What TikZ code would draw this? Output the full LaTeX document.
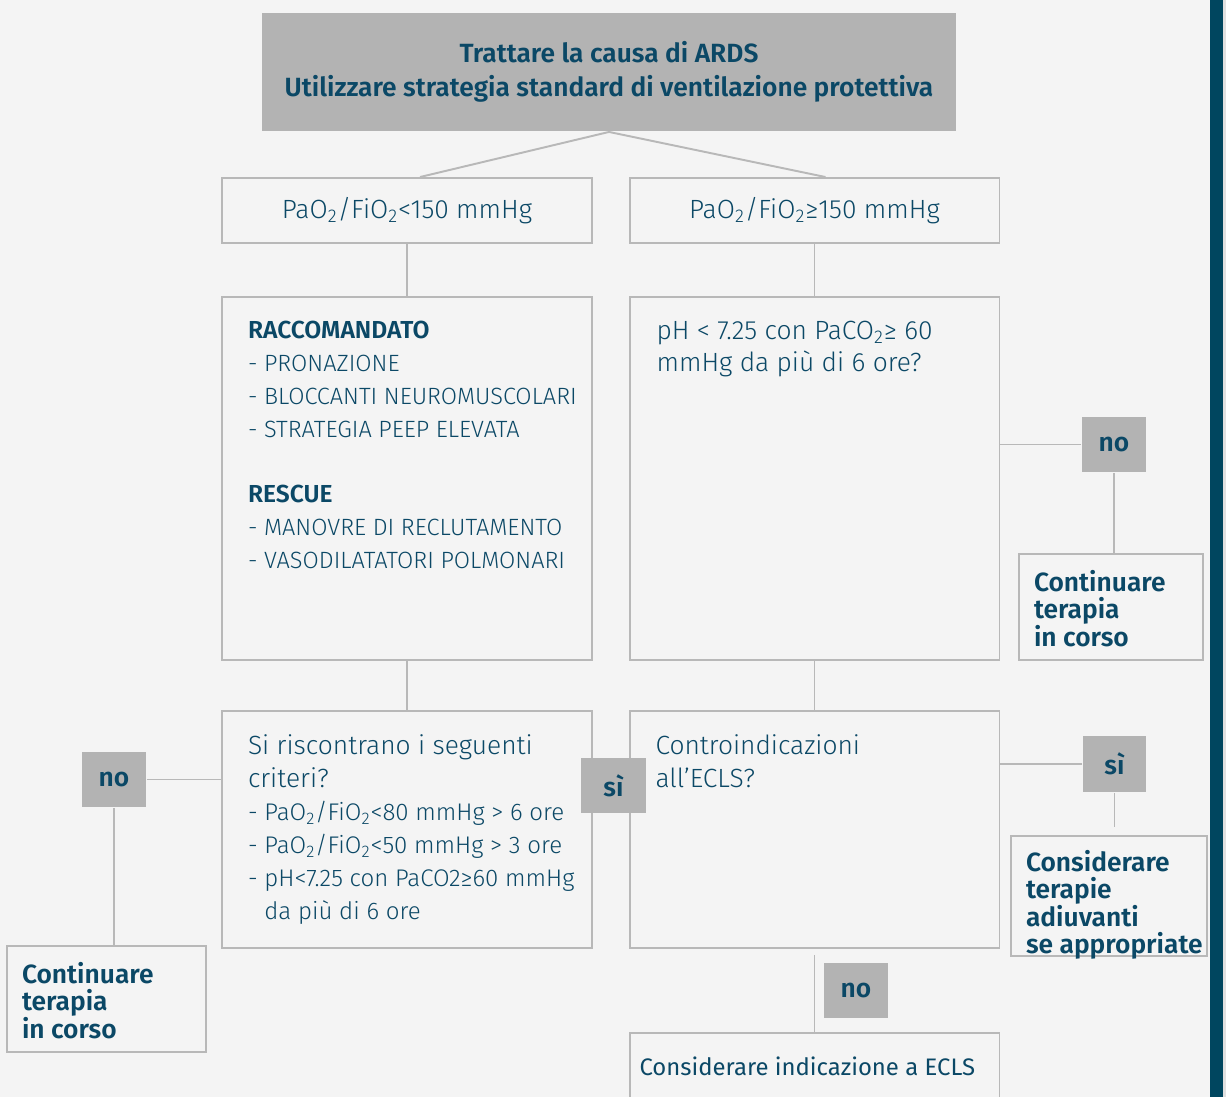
\documentclass[tikz,border=0pt]{standalone}
\usepackage{fontspec}
\setmainfont{Fira Sans}[UprightFont=* Light, BoldFont=* SemiBold]
\newfontfamily\firareg{Fira Sans}
\usepackage{tikz}
\definecolor{ardsblue}{HTML}{0B4866}
\definecolor{ardsbar}{HTML}{00465F}
\definecolor{ardsgrey}{HTML}{B3B3B3}
\definecolor{ardsline}{HTML}{B8B8B8}
\definecolor{ardsbg}{HTML}{F4F4F4}

\begin{document}
\begin{tikzpicture}[x=0.02cm, y=-0.02cm, line width=1.1pt,
    box/.style={draw=ardsline, fill=ardsbg, inner sep=0pt},
    tag/.style={fill=ardsgrey, text=ardsblue, inner sep=0pt,
                font=\fontsize{15}{18}\selectfont\bfseries},
    wire/.style={draw=ardsline},
    txt/.style={text=ardsblue, inner sep=0pt, align=left, anchor=north west}]
  % page, with the dark band on the right; one unit is one pixel of the sheet
  \fill[ardsbg] (0,0) rectangle (1226,1097);
  \fill[ardsbar] (1210,0) rectangle (1223,1097);
  \fill[black!12] (1223,0) rectangle (1226,1097);
  \useasboundingbox (0,0) rectangle (1226,1097);

  % boxes
  \node[tag, minimum width=13.88cm, minimum height=2.36cm, align=center,
        font=\fontsize{15}{19.3}\selectfont\bfseries] (top) at (609,72)
    {Trattare la causa di ARDS\\Utilizzare strategia standard di ventilazione protettiva};
  \node[box, minimum width=7.4cm, minimum height=1.3cm, text=ardsblue,
        font=\fontsize{15}{17}\selectfont] (lo) at (407,210.5)
    {PaO\textsubscript{2}/FiO\textsubscript{2}<150 mmHg};
  \node[box, minimum width=7.4cm, minimum height=1.3cm, text=ardsblue,
        font=\fontsize{15}{17}\selectfont] (hi) at (814.5,210.5)
    {PaO\textsubscript{2}/FiO\textsubscript{2}≥150 mmHg};
  \node[box, minimum width=7.4cm, minimum height=7.26cm] (rec) at (407,478.5) {};
  \node[box, minimum width=7.4cm, minimum height=7.26cm] (hyp) at (814.5,478.5) {};
  \node[box, minimum width=3.68cm, minimum height=2.12cm] (cont1) at (1111,607) {};
  \node[box, minimum width=7.4cm, minimum height=4.74cm] (crit) at (407,829.5) {};
  \node[box, minimum width=7.4cm, minimum height=4.74cm] (ecls) at (814.5,829.5) {};
  \node[box, minimum width=3.98cm, minimum height=2.12cm] (cont2) at (106.5,999) {};
  \node[box, minimum width=3.92cm, minimum height=2.4cm] (adj) at (1109,896) {};
  \node[box, minimum width=7.4cm, minimum height=2cm] (ind) at (814.5,1083) {};

  % yes / no tags
  \node[tag, minimum width=1.28cm, minimum height=1.1cm] (no1) at (1114,444.5) {no};
  \node[tag, minimum width=1.3cm, minimum height=1.1cm] (si1) at (613.5,785.5) {sì};
  \node[tag, minimum width=1.28cm, minimum height=1.1cm] (no2) at (114,779.5) {no};
  \node[tag, minimum width=1.26cm, minimum height=1.12cm] (si2) at (1114.5,764) {sì};
  \node[tag, minimum width=1.28cm, minimum height=1.1cm] (no3) at (856,990.5) {no};

  % texts inside the boxes
  \node[txt, font=\fontsize{13.4}{18.7}\selectfont] (rect) at ([shift={(26,24)}]rec.north west)
    {{\fontsize{14}{18.7}\selectfont\bfseries RACCOMANDATO}\\
     - PRONAZIONE\\
     - BLOCCANTI NEUROMUSCOLARI\\
     - STRATEGIA PEEP ELEVATA\\[18.7pt]
     {\fontsize{14}{18.7}\selectfont\bfseries RESCUE}\\
     - MANOVRE DI RECLUTAMENTO\\
     - VASODILATATORI POLMONARI};
  \node[txt, font=\fontsize{15}{18.2}\selectfont] (hypt) at ([shift={(27,24)}]hyp.north west)
    {pH < 7.25 con PaCO\textsubscript{2}≥ 60\\mmHg da più di 6 ore?};
  \node[txt, font=\fontsize{15}{18.7}\selectfont] (critt) at ([shift={(26,24)}]crit.north west)
    {Si riscontrano i seguenti\\
     criteri?\\
     {\fontsize{13.7}{18.7}\selectfont - PaO\textsubscript{2}/FiO\textsubscript{2}<80 mmHg > 6 ore}\\
     {\fontsize{13.7}{18.7}\selectfont - PaO\textsubscript{2}/FiO\textsubscript{2}<50 mmHg > 3 ore}\\
     {\fontsize{13.7}{18.7}\selectfont - pH<7.25 con PaCO2≥60 mmHg}\\
     {\fontsize{13.7}{18.7}\selectfont \hphantom{- }da più di 6 ore}};
  \node[txt, font=\fontsize{15}{18.7}\selectfont] (eclst) at ([shift={(26,24)}]ecls.north west)
    {Controindicazioni\\all’ECLS?};
  \node[txt, font=\fontsize{15}{15.3}\selectfont\bfseries] (cont1t) at ([shift={(15,16)}]cont1.north west)
    {Continuare\\terapia\\in corso};
  \node[txt, font=\fontsize{15}{15.3}\selectfont\bfseries] (cont2t) at ([shift={(15,16)}]cont2.north west)
    {Continuare\\terapia\\in corso};
  \node[txt, font=\fontsize{15}{15.3}\selectfont\bfseries] (adjt) at ([shift={(15,14)}]adj.north west)
    {Considerare\\terapie\\adiuvanti\\se appropriate};
  \node[txt, anchor=west, font=\firareg\fontsize{13.6}{17}\selectfont] (indt) at ([shift={(10,34)}]ind.north west)
    {Considerare indicazione a ECLS};

  % connectors
  \draw[wire] (top.south) -- ([xshift=0.26cm]lo.north);
  \draw[wire] (top.south) -- ([xshift=0.22cm]hi.north);
  \draw[wire] (lo.south) -- (rec.north);
  \draw[wire] (hi.south) -- (hyp.north);
  \draw[wire] (no1.west) -- (no1.west -| hyp.east);
  \draw[wire] (no1.south) -- (no1.south |- cont1.north);
  \draw[wire] (rec.south) -- (crit.north);
  \draw[wire] (hyp.south) -- (ecls.north);
  \draw[wire] (no2.east) -- (no2.east -| crit.west);
  \draw[wire] (no2.south) -- (no2.south |- cont2.north);
  \draw[wire] (si2.west) -- (si2.west -| ecls.east);
  \draw[wire, shorten >=0.16cm] (si2.south) -- (si2.south |- adj.north);
  \draw[wire, shorten <=0.12cm] (ecls.south) -- (ind.north);
\end{tikzpicture}
\end{document}
